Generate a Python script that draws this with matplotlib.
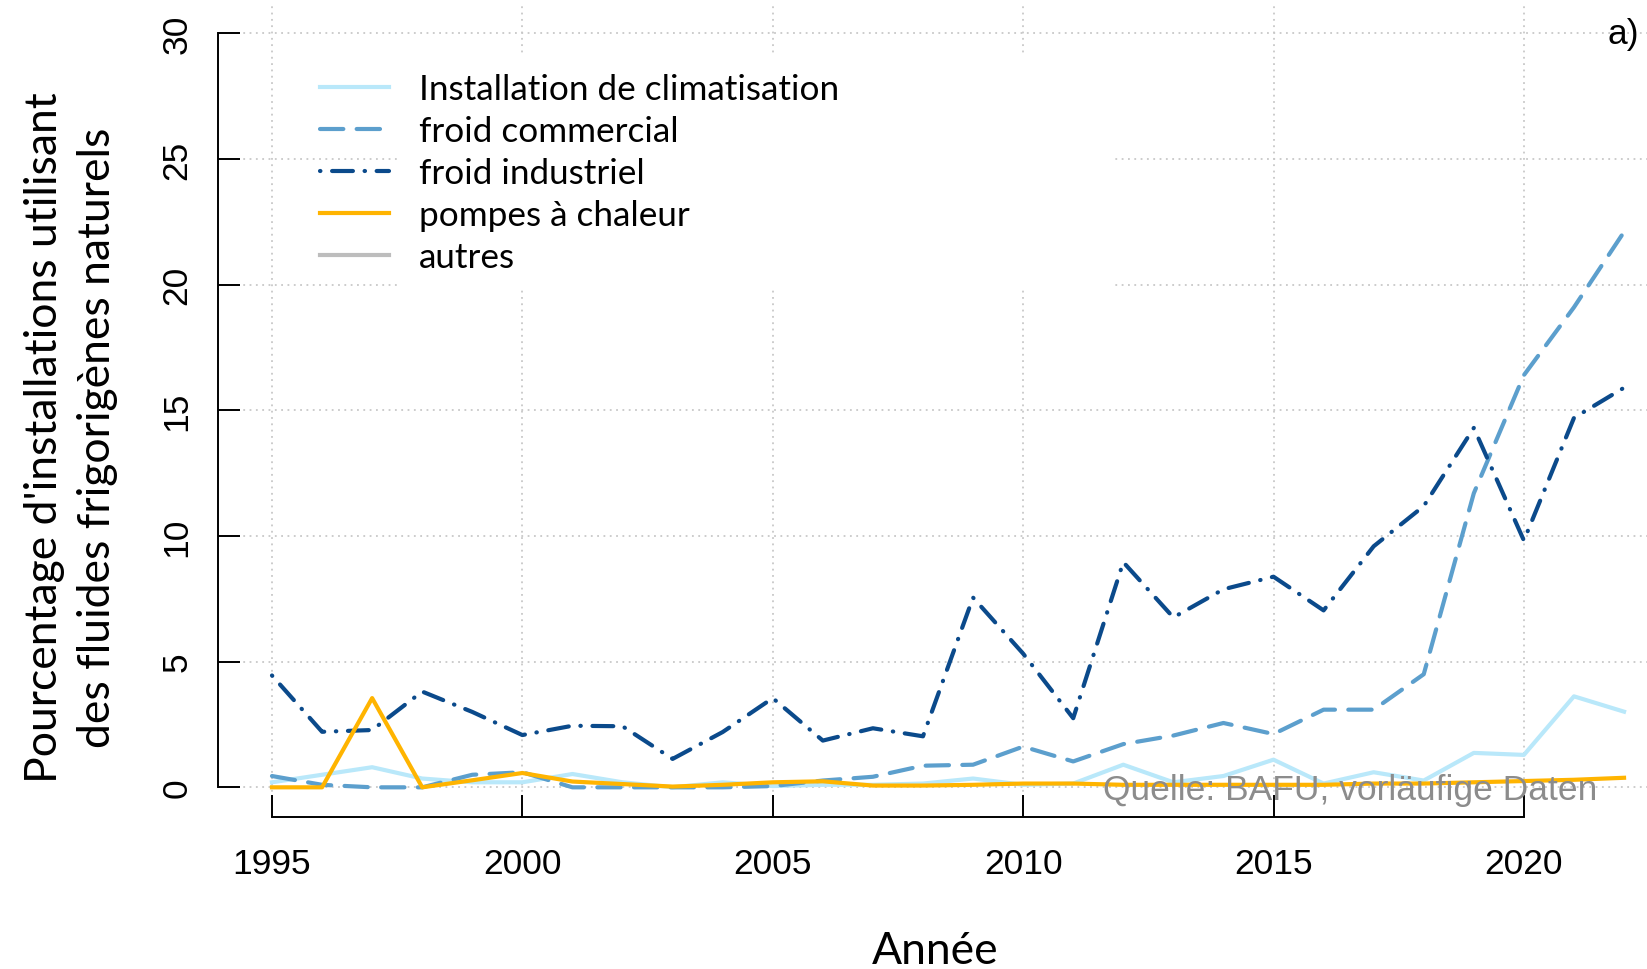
import numpy as np
import matplotlib.pyplot as plt
from matplotlib.patches import Rectangle

plt.rcParams['font.family'] = ['Liberation Sans', 'DejaVu Sans']

# Part des installations avec fluides frigorigènes naturels (%)
years = np.arange(1995, 2023)
climatisation = [0.2, 0.5, 0.8, 0.35, 0.2, 0.2, 0.53, 0.2, 0.0, 0.2,
                 0.05, 0.1, 0.1, 0.15, 0.35, 0.1, 0.15, 0.9, 0.2, 0.45,
                 1.1, 0.15, 0.6, 0.27, 1.37, 1.29, 3.62, 3.01]
commercial = [0.45, 0.1, 0.0, 0.0, 0.5, 0.6, 0.0, 0.0, 0.0, 0.0,
              0.05, 0.27, 0.42, 0.86, 0.9, 1.62, 1.03, 1.72, 2.06, 2.56,
              2.12, 3.09, 3.09, 4.5, 11.7, 16.4, 19.1, 22.1]
industriel = [4.45, 2.21, 2.28, 3.81, 3.0, 2.08, 2.45, 2.43, 1.13, 2.2,
              3.55, 1.86, 2.35, 2.03, 7.55, 5.32, 2.75, 8.96, 6.76, 7.88,
              8.38, 7.04, 9.59, 11.19, 14.3, 9.82, 14.7, 15.9]
pompes = [0.0, 0.0, 3.55, 0.0, 0.28, 0.57, 0.23, 0.13, 0.03, 0.1,
          0.2, 0.24, 0.07, 0.07, 0.1, 0.15, 0.15, 0.1, 0.1, 0.1,
          0.1, 0.1, 0.15, 0.15, 0.2, 0.25, 0.3, 0.38]
autres = np.full(len(years), np.nan)  # pas de valeurs publiées

labels = ['Installation de climatisation', 'froid commercial',
          'froid industriel', 'pompes à chaleur', 'autres']

fig = plt.figure(figsize=(16.47, 9.70), dpi=100)
ax = fig.add_axes([0.1323, 0.1562, 0.8866, 0.8395])

lw = 3
l1, = ax.plot(years, climatisation, color='#b9e8fa', lw=lw, zorder=2)
l2, = ax.plot(years, commercial, color='#5c9fcd', lw=lw, zorder=2,
              linestyle=(0, (5.6, 3.2)), dash_capstyle='round')
l3, = ax.plot(years, industriel, color='#0b4a8b', lw=lw, zorder=2,
              linestyle=(0, (0.1, 2.8, 5, 2.8)), dash_capstyle='round')
l4, = ax.plot(years, pompes, color='#ffb400', lw=lw, zorder=3)
l5, = ax.plot(years, autres, color='#bdbdbd', lw=lw, zorder=3)

ax.set_xlim(1993.92, 2023.08)
ax.set_ylim(-1.2, 31.2)
ax.set_xticks(range(1995, 2021, 5))
ax.set_yticks(range(0, 31, 5))

ax.set_axisbelow(True)
ax.grid(True, color='#c8c8c8', lw=1.3, linestyle=(0, (1, 2.5)))

for s in ['top', 'right']:
    ax.spines[s].set_visible(False)
ax.spines['left'].set_bounds(0, 30)
ax.spines['bottom'].set_bounds(1995, 2020)
for s in ['left', 'bottom']:
    ax.spines[s].set_linewidth(1.4)

ax.tick_params(direction='in', length=16, width=1.4, labelsize=25.5)
ax.tick_params(axis='x', pad=21.3)
ax.tick_params(axis='y', pad=17.5, labelrotation=90)
for t in ax.get_yticklabels():
    t.set_va('center')

# fond blanc derrière la légende
ax.add_patch(Rectangle((0.1233, 0.649), 0.4883, 0.2886, transform=ax.transAxes,
                       facecolor='white', edgecolor='none', zorder=1))

ax.legend([l1, l2, l3, l4, l5], labels, loc='upper left',
          bbox_to_anchor=(320 / 1647, 0.9237), bbox_transform=fig.transFigure,
          frameon=False, borderpad=0, borderaxespad=0,
          handlelength=1.95, handletextpad=0.855, labelspacing=0.285,
          prop={'family': 'Lato', 'size': 25.3})

ax.text(2021.47, -0.47, 'Quelle: BAFU, vorläufige Daten', color='#8c8c8c',
        fontsize=25.5, ha='right', va='baseline', zorder=4)

fig.text(0.995, 0.964, 'a)', fontsize=25.5, ha='right', va='center')
fig.text(0.568, 0.006, 'Année', family='Lato', fontsize=32,
         ha='center', va='baseline')
fig.text(0.0431, 0.549,
         "Pourcentage d'installations utilisant\ndes fluides frigorigènes naturels",
         family='Lato', fontsize=32, rotation=90, ha='center', va='center',
         multialignment='center', linespacing=1.35)

fig.savefig('out.png', dpi=100)
